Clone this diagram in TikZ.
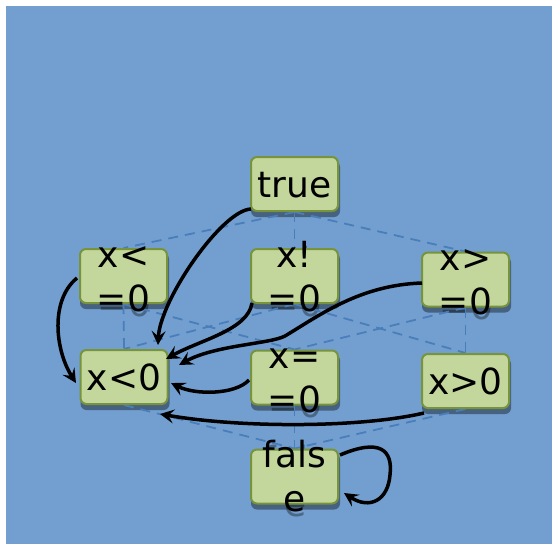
\documentclass[tikz,border=0pt]{standalone}
\usepackage{fontspec}
\newfontfamily\dejavu{DejaVu Sans}
\usetikzlibrary{calc,arrows.meta}
\definecolor{bgblue}{HTML}{729FCF}
\definecolor{boxfill}{HTML}{C3D69B}
\definecolor{boxline}{HTML}{77933C}
\definecolor{dashblue}{HTML}{4A7EBB}
\pgfdeclarelayer{back}
\pgfdeclarelayer{lines}
\pgfsetlayers{back,lines,main}
\tikzset{
  box/.style={draw=boxline, fill=boxfill, rounded corners=6pt, line width=2pt,
    minimum width=87pt, minimum height=54pt, inner sep=0pt},
  shadowbox/.style={fill=black, fill opacity=0.38, rounded corners=6pt,
    minimum width=89pt, minimum height=56pt, inner sep=0pt},
  lbl/.style={anchor=base, inner sep=0pt, font=\dejavu\fontsize{36}{44}\selectfont},
  lblshadow/.style={lbl, text=black, text opacity=0.35},
  lattice/.style={draw=dashblue, dash pattern=on 10pt off 7pt, line width=1.8pt},
  arr/.style={line width=3.5pt, -{Stealth[length=14pt,width=14pt,inset=5.5pt]}},
}
\begin{document}
\begin{tikzpicture}[x=1pt,y=-1pt]
\useasboundingbox (0,0) rectangle (552,544);
% boxes
\node[box] (t)  at (294.5,184)   {};
\node[box] (le) at (123.5,276)   {};
\node[box] (ne) at (294.5,276)   {};
\node[box] (ge) at (465.5,279.5) {};
\node[box] (lt) at (124,377)     {};
\node[box] (eq) at (294.5,377.5) {};
\node[box] (gt) at (465.5,381)   {};
\node[box] (f)  at (294.5,476.5) {};
\begin{pgfonlayer}{back}
  \fill[white] (0,0) rectangle (552,544);
  \fill[bgblue] (6,6) rectangle (552,544);
  \foreach \n in {t,le,ne,ge,lt,eq,gt,f}
    \node[shadowbox] (s\n) at ($(\n)+(1,5)$) {};
  % text shadows
  \node[lblshadow] (stt)  at ($(t)+(1,18)$)  {true};
  \node[lblshadow] (sle1) at ($(le)+(1,-4)$) {x<};
  \node[lblshadow] (sle2) at ($(le)+(1,40)$) {=0};
  \node[lblshadow] (sne1) at ($(ne)+(1,-4)$) {x!};
  \node[lblshadow] (sne2) at ($(ne)+(1,40)$) {=0};
  \node[lblshadow] (sge1) at ($(ge)+(1,-4)$) {x>};
  \node[lblshadow] (sge2) at ($(ge)+(1,40)$) {=0};
  \node[lblshadow] (slt)  at ($(lt)+(1,18)$) {x<0};
  \node[lblshadow] (seq1) at ($(eq)+(1,-4)$) {x=};
  \node[lblshadow] (seq2) at ($(eq)+(1,40)$) {=0};
  \node[lblshadow] (sgt)  at ($(gt)+(1,18)$) {x>0};
  \node[lblshadow] (sf1)  at ($(f)+(1,-4)$)  {fals};
  \node[lblshadow] (sf2)  at ($(f)+(1,40)$)  {e};
\end{pgfonlayer}
\begin{pgfonlayer}{lines}
  \foreach \a/\b in {t/le,t/ne,t/ge,le/lt,le/eq,ne/lt,ne/gt,ge/eq,ge/gt,lt/f,eq/f,gt/f}
    \draw[lattice] (\a.south) -- (\b.north);
\end{pgfonlayer}
% texts
\node[lbl] (tt)  at ($(t)+(0,13)$)  {true};
\node[lbl] (le1) at ($(le)+(0,-9)$) {x<};
\node[lbl] (le2) at ($(le)+(0,35)$) {=0};
\node[lbl] (ne1) at ($(ne)+(0,-9)$) {x!};
\node[lbl] (ne2) at ($(ne)+(0,35)$) {=0};
\node[lbl] (ge1) at ($(ge)+(0,-9)$) {x>};
\node[lbl] (ge2) at ($(ge)+(0,35)$) {=0};
\node[lbl] (ltt) at ($(lt)+(0,13)$) {x<0};
\node[lbl] (eq1) at ($(eq)+(0,-9)$) {x=};
\node[lbl] (eq2) at ($(eq)+(0,35)$) {=0};
\node[lbl] (gtt) at ($(gt)+(0,13)$) {x>0};
\node[lbl] (f1)  at ($(f)+(0,-9)$)  {fals};
\node[lbl] (f2)  at ($(f)+(0,35)$)  {e};
% arrows
\draw[arr] ($(t.south west)+(1,-3)$) .. controls (222,210) and (160,300) .. ($(lt.north)+(34,-4)$);
\draw[arr] ($(le.west)+(-2,2)$) .. controls (50,300) and (55,350) .. ($(lt.west)+(-3.5,6)$);
\draw[arr] ($(ne.south west)+(2,-1)$) .. controls (248,330) and (200,340) .. ($(lt.north east)+(-2.5,10)$);
\draw[arr] ($(ge.west)+(1,3.5)$) .. controls (360,285) and (320,315) .. (285,336)
   .. controls (270,344) and (215,345) .. ($(lt.east)+(10.5,-12)$);
\draw[arr] ($(eq.west)+(-1,2.5)$) .. controls (235,395) and (195,395) .. ($(lt.east)+(2.5,6)$);
\draw[arr] ($(gt.south west)+(3,4)$) .. controls (360,428) and (240,428) .. ($(lt.south)+(36,9)$);
\draw[arr] ($(f.north east)+(1,6.5)$) .. controls (380,438) and (393,450) .. (390,475)
   .. controls (388,500) and (370,510) .. ($(f.east)+(5,16.5)$);
\end{tikzpicture}
\end{document}
